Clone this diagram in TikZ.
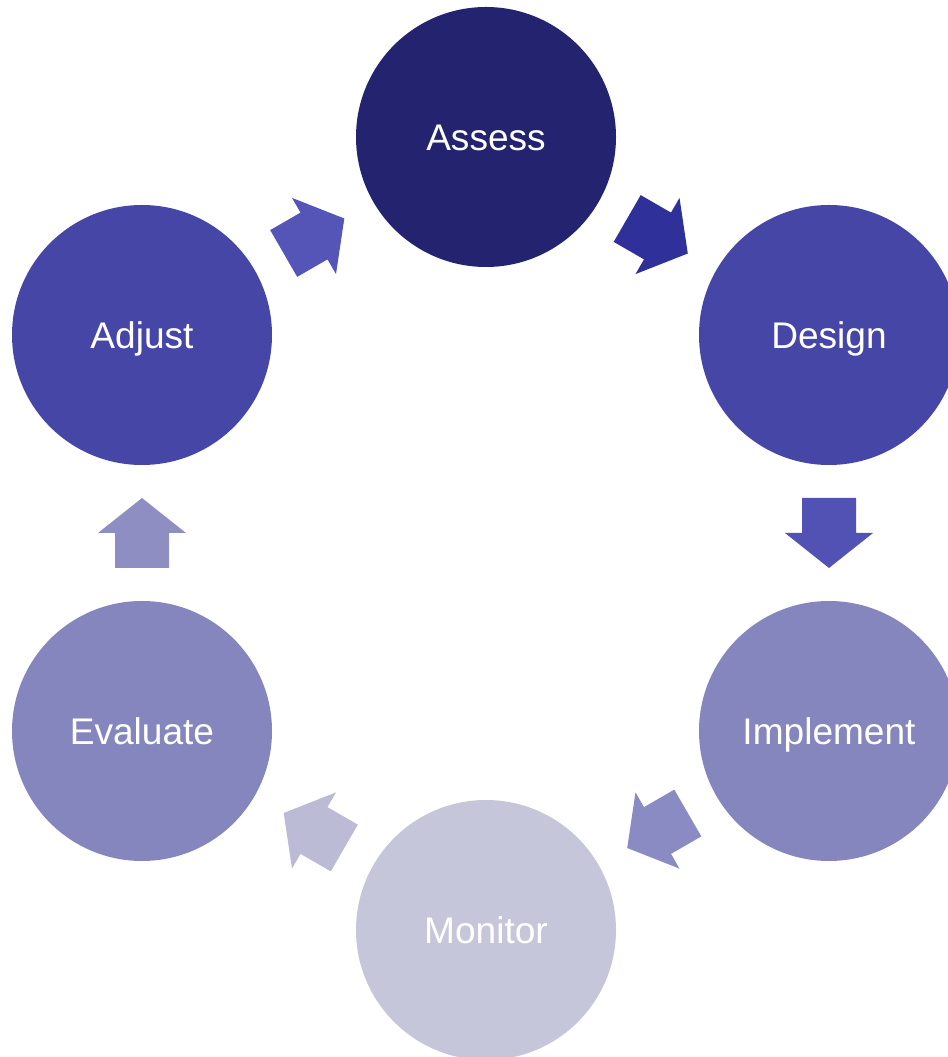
\documentclass[tikz,border=0pt]{standalone}
\usepackage{fontspec}
\setmainfont{Liberation Sans}
\usetikzlibrary{calc}
\definecolor{cAssess}{HTML}{232370}
\definecolor{cMid}{HTML}{4646A6}
\definecolor{cLight}{HTML}{8686BE}
\definecolor{cPale}{HTML}{C6C6DB}
\definecolor{aOne}{HTML}{30309A}
\definecolor{aTwo}{HTML}{5252B4}
\definecolor{aThree}{HTML}{8B8BC3}
\definecolor{aFour}{HTML}{BBBBD6}
\definecolor{aFive}{HTML}{8E8EC3}
\definecolor{aSix}{HTML}{5555B7}
\tikzset{
  stage/.style={circle, minimum size=195pt, inner sep=0pt, text=white,
    text height=19.9pt, text depth=0pt,
    font=\fontsize{27.8}{33}\selectfont},
}
\newcommand\blockarrow[4]{%
  \begin{scope}[shift={($(#1)!0.5!(#2)$)}, rotate=#3]
    \fill[#4] (-35,-27) -- (0,-27) -- (0,-44) -- (35,0) -- (0,44) -- (0,27) -- (-35,27) -- cycle;
  \end{scope}}
\begin{document}
\begin{tikzpicture}[x=0.75pt,y=0.75pt]
\useasboundingbox (0,0) rectangle (948,1057);
\node[stage, fill=cAssess] (assess) at (486,920) {Assess};
\node[stage, fill=cMid] (design) at (829,722) {Design};
\node[stage, fill=cLight] (implement) at (829,326) {Implement};
\node[stage, fill=cPale] (monitor) at (486,127) {Monitor};
\node[stage, fill=cLight] (evaluate) at (142,326) {Evaluate};
\node[stage, fill=cMid] (adjust) at (142,722) {Adjust};
\blockarrow{assess}{design}{-30}{aOne}
\blockarrow{design}{implement}{-90}{aTwo}
\blockarrow{implement}{monitor}{-150}{aThree}
\blockarrow{monitor}{evaluate}{150}{aFour}
\blockarrow{evaluate}{adjust}{90}{aFive}
\blockarrow{adjust}{assess}{30}{aSix}
\end{tikzpicture}
\end{document}
